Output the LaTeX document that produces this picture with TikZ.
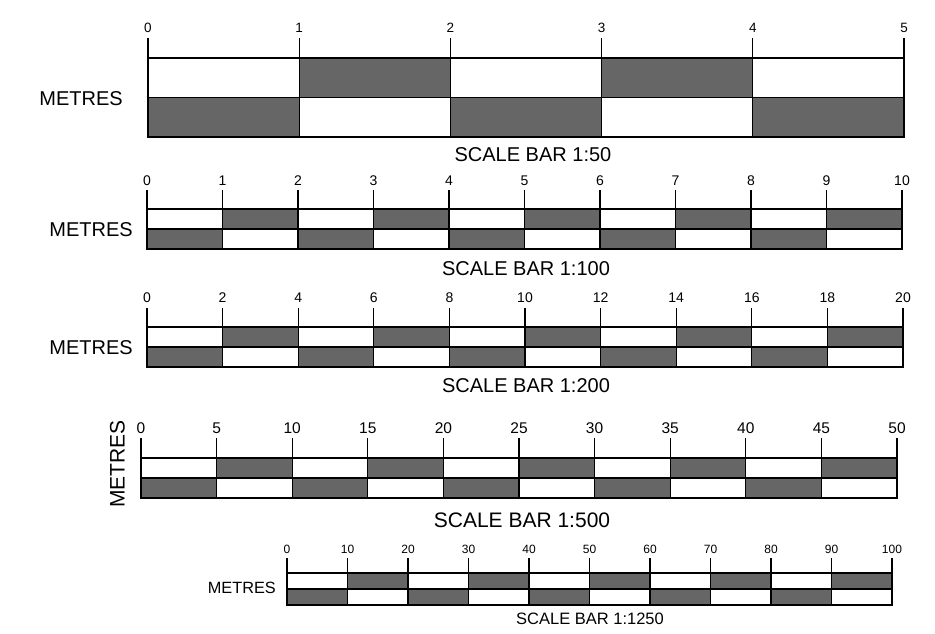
\documentclass[tikz,border=0pt]{standalone}
\usepackage{fontspec}
\setmainfont{Liberation Sans}
\definecolor{barfill}{HTML}{666666}
\newcount\barid
\newcommand{\fs}[1]{\fontsize{#1}{#1}\selectfont}
% #1 x0, #2 dx, #3 cells, #4 tick top, #5 bar top, #6 row height, #7 label y, #8 font size, #9 labels
\newcommand{\sbar}[9]{%
  \global\advance\barid by 1
  \pgfmathsetmacro\xend{#1+#3*#2}
  \pgfmathtruncatemacro\lastcell{#3-1}
  \foreach \i in {0,...,\lastcell} {
    \pgfmathtruncatemacro\odd{mod(\i,2)}
    \ifnum\odd=1
      \fill[barfill] ({#1+\i*#2},#5) rectangle ({#1+(\i+1)*#2},{#5+#6});
    \else
      \fill[barfill] ({#1+\i*#2},{#5+#6}) rectangle ({#1+(\i+1)*#2},{#5+2*#6});
    \fi
  }
  \draw[barline] (#1,#5) rectangle (\xend,{#5+#6});
  \draw[barline] (#1,{#5+#6}) rectangle (\xend,{#5+2*#6});
  \foreach \lab [count=\j from 0] in {#9} {
    \draw[barline] ({#1+\j*#2},#4) -- ({#1+\j*#2},{#5+2*#6});
    \node[ticklab,font=\fs{#8}] (t\the\barid-\j) at ({#1+\j*#2},#7) {\lab};
  }
}
\begin{document}
\begin{tikzpicture}[x=1pt,y=-1pt,
  barline/.style={line width=1.2pt,black},
  ticklab/.style={inner sep=0pt},
  txt/.style={inner sep=0pt}]
\useasboundingbox (0,0) rectangle (935,634);
\sbar{148}{151.2}{5}{38}{58}{39.5}{27.5}{13.5}{0,1,2,3,4,5}
\sbar{147}{75.5}{10}{190}{209}{20}{181}{14}{0,1,2,3,4,5,6,7,8,9,10}
\sbar{147}{75.6}{10}{308}{327}{20}{298}{14}{0,2,4,6,8,10,12,14,16,18,20}
\sbar{141}{75.6}{10}{438}{458}{20}{428}{15.5}{0,5,10,15,20,25,30,35,40,45,50}
\sbar{287}{60.5}{10}{558}{573}{16}{549}{12}{0,10,20,30,40,50,60,70,80,90,100}
% captions
\node[txt,font=\fs{20}] (c1) at (533,155) {SCALE BAR 1:50};
\node[txt,font=\fs{20}] (c2) at (526,269) {SCALE BAR 1:100};
\node[txt,font=\fs{20}] (c3) at (526,386) {SCALE BAR 1:200};
\node[txt,font=\fs{21}] (c4) at (522,520) {SCALE BAR 1:500};
\node[txt,font=\fs{16.5}] (c5) at (590,619) {SCALE BAR 1:1250};
% unit labels
\node[txt,font=\fs{20},anchor=east] (m1) at (123,98.5) {METRES};
\node[txt,font=\fs{20},anchor=east] (m2) at (133,229.5) {METRES};
\node[txt,font=\fs{20},anchor=east] (m3) at (133,348) {METRES};
\node[txt,font=\fs{21},rotate=90] (m4) at (117.5,464) {METRES};
\node[txt,font=\fs{16.3},anchor=east] (m5) at (276,588) {METRES};
\end{tikzpicture}
\end{document}
